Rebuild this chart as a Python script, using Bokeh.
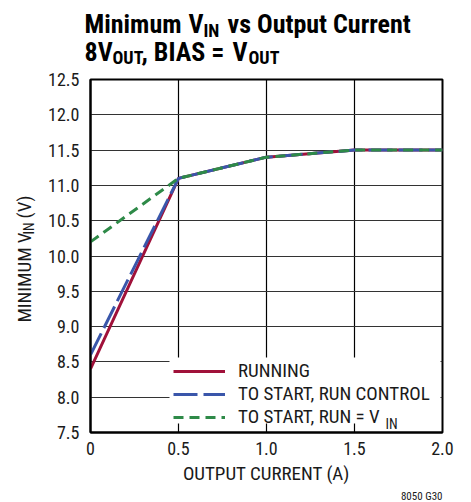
import math
from bokeh.plotting import figure
from bokeh.layouts import column, row
from bokeh.core.properties import value
from bokeh.models import (Range1d, FixedTicker, Label, Legend, LegendItem,
                          PrintfTickFormatter, BoxAnnotation, Title)
from bokeh.embed import file_html
from bokeh.resources import INLINE

# ---- data ----
current = [0.0, 0.5, 1.0, 1.5, 2.0]
running = [8.4, 11.1, 11.4, 11.5, 11.5]
run_control = [8.6, 11.1, 11.4, 11.5, 11.5]
run_vin = [10.2, 11.1, 11.4, 11.5, 11.5]

x_ticks = [0.0, 0.5, 1.0, 1.5, 2.0]
y_ticks = [7.5, 8.0, 8.5, 9.0, 9.5, 10.0, 10.5, 11.0, 11.5, 12.0, 12.5]

series_labels = ["RUNNING", "TO START, RUN CONTROL", "TO START, RUN = V"]

title_parts = ["Minimum", "V", "IN", "vs Output Current",
               "8V", "OUT", ", BIAS =", "V", "OUT"]
ylab_parts = ["MINIMUM V", "IN", "(V)"]

FONT = "Roboto Condensed"
TXT = "#1a1a1a"
RED = "#A0113A"
BLUE = "#3A56AA"
GREEN = "#2E8A48"

TITLE_H = 68
MAIN_H = 502 - TITLE_H
YLAB_W = 40

# ---------------- main chart ----------------
p = figure(width=471 - YLAB_W, height=MAIN_H, output_backend="svg",
           toolbar_location=None, frame_align=False,
           x_range=Range1d(0, 2.0), y_range=Range1d(7.5, 12.5),
           min_border_left=90 - YLAB_W, min_border_right=29,
           min_border_top=79 - TITLE_H, min_border_bottom=70)
p.background_fill_color = "white"
p.border_fill_color = "white"
p.outline_line_color = "black"
p.outline_line_width = 2

for ax in (p.xaxis[0], p.yaxis[0]):
    ax.major_tick_line_color = None
    ax.minor_tick_line_color = None
    ax.major_tick_out = 0
    ax.major_tick_in = 0
    ax.axis_line_color = "black"
    ax.axis_line_width = 2
    ax.major_label_text_font = FONT
    ax.major_label_text_font_size = "18px"
    ax.major_label_text_color = TXT

p.xaxis.ticker = FixedTicker(ticks=x_ticks)
p.yaxis.ticker = FixedTicker(ticks=y_ticks)
p.xaxis.formatter = PrintfTickFormatter(format="%.1f")
p.xaxis.major_label_overrides = {0: "0"}
p.yaxis.formatter = PrintfTickFormatter(format="%.1f")
p.xaxis.major_label_standoff = 9
p.yaxis.major_label_standoff = 11

p.xaxis.axis_label = "OUTPUT CURRENT (A)"
p.xaxis.axis_label_text_font = FONT
p.xaxis.axis_label_text_font_size = "19px"
p.xaxis.axis_label_text_font_style = "normal"
p.xaxis.axis_label_text_color = TXT
p.xaxis.axis_label_standoff = 4

p.xgrid.ticker = FixedTicker(ticks=x_ticks)
p.ygrid.ticker = FixedTicker(ticks=y_ticks)
p.xgrid.grid_line_color = "black"
p.ygrid.grid_line_color = "#333333"
p.xgrid.grid_line_width = 1.2
p.ygrid.grid_line_width = 1.2

r1 = p.line(current, running, line_color=RED, line_width=3)
r2 = p.line(current, run_control, line_color=BLUE, line_width=3,
            line_dash="24 6")
r3 = p.line(current, run_vin, line_color=GREEN, line_width=3,
            line_dash="10 6")

# white panel behind the legend (hides the grid there)
p.add_layout(BoxAnnotation(left=79, right=350, bottom=9, top=75,
                           left_units="screen", right_units="screen",
                           top_units="screen", bottom_units="screen",
                           fill_color="white", fill_alpha=1.0,
                           line_color=None, level="annotation"))

legend = Legend(items=[
    LegendItem(label=series_labels[0], renderers=[r1]),
    LegendItem(label=series_labels[1], renderers=[r2]),
    LegendItem(label=series_labels[2], renderers=[r3]),
], location=(83, 4))
legend.background_fill_alpha = 0.0
legend.border_line_color = None
legend.padding = 4
legend.margin = 0
legend.spacing = 0
legend.glyph_width = 52
legend.glyph_height = 18
legend.label_height = 18
legend.label_standoff = 13
legend.label_text_font = FONT
legend.label_text_font_size = "19px"
legend.label_text_color = TXT
legend.label_text_baseline = "middle"
p.add_layout(legend, "center")

# subscript of the legend's last entry
p.add_layout(Label(x=385 - 90, y=432 - 423, x_units="screen", y_units="screen",
                   text="IN", text_font=FONT, text_font_size="14px",
                   text_color=TXT, text_baseline="alphabetic"))

# figure code below the chart
p.add_layout(Title(text="8050 G30", align="right", text_font=FONT,
                   text_font_size="11px", text_font_style="normal",
                   text_color=TXT, standoff=0), "below")

# ---------------- title strip (y axis runs downward: page pixels) ----------
t = figure(width=471, height=TITLE_H, output_backend="svg", title=None,
           toolbar_location=None, x_axis_type=None, y_axis_type=None,
           frame_align=False,
           x_range=Range1d(0, 471), y_range=Range1d(TITLE_H, 0),
           min_border_left=0, min_border_right=0, min_border_top=0,
           min_border_bottom=0)
t.outline_line_color = None
t.xgrid.visible = False
t.ygrid.visible = False

title_x = [84, 188, 203, 227, 84, 112, 141, 232, 248]
title_y = [23, 23, 30, 23, 51, 57, 51, 51, 57]
title_size = ["26px", "26px", "18px", "26px", "26px", "18px", "26px", "26px", "18px"]
t.text(x=title_x, y=title_y, text=title_parts, text_font=value(FONT),
       text_font_size=title_size, text_font_style="bold", text_color="black",
       text_baseline="alphabetic", text_align="left")

# ---------------- y-axis label strip (y = page pixels) ----------------
yl = figure(width=YLAB_W, height=MAIN_H, output_backend="svg", title=None,
            toolbar_location=None, x_axis_type=None, y_axis_type=None,
            frame_align=False,
            x_range=Range1d(0, YLAB_W), y_range=Range1d(502, TITLE_H),
            min_border_left=0, min_border_right=0, min_border_top=0,
            min_border_bottom=0)
yl.outline_line_color = None
yl.xgrid.visible = False
yl.ygrid.visible = False

ylab_x = [24, 28, 24]
ylab_y = [322, 234, 218]
ylab_size = ["19px", "14px", "19px"]
yl.text(x=ylab_x, y=ylab_y, text=ylab_parts, text_font=value(FONT),
        text_font_size=ylab_size, text_color=TXT, angle=math.pi / 2,
        text_baseline="alphabetic", text_align="left")

layout = column(t, row(yl, p))
open("out.html", "w").write(file_html(layout, INLINE))
